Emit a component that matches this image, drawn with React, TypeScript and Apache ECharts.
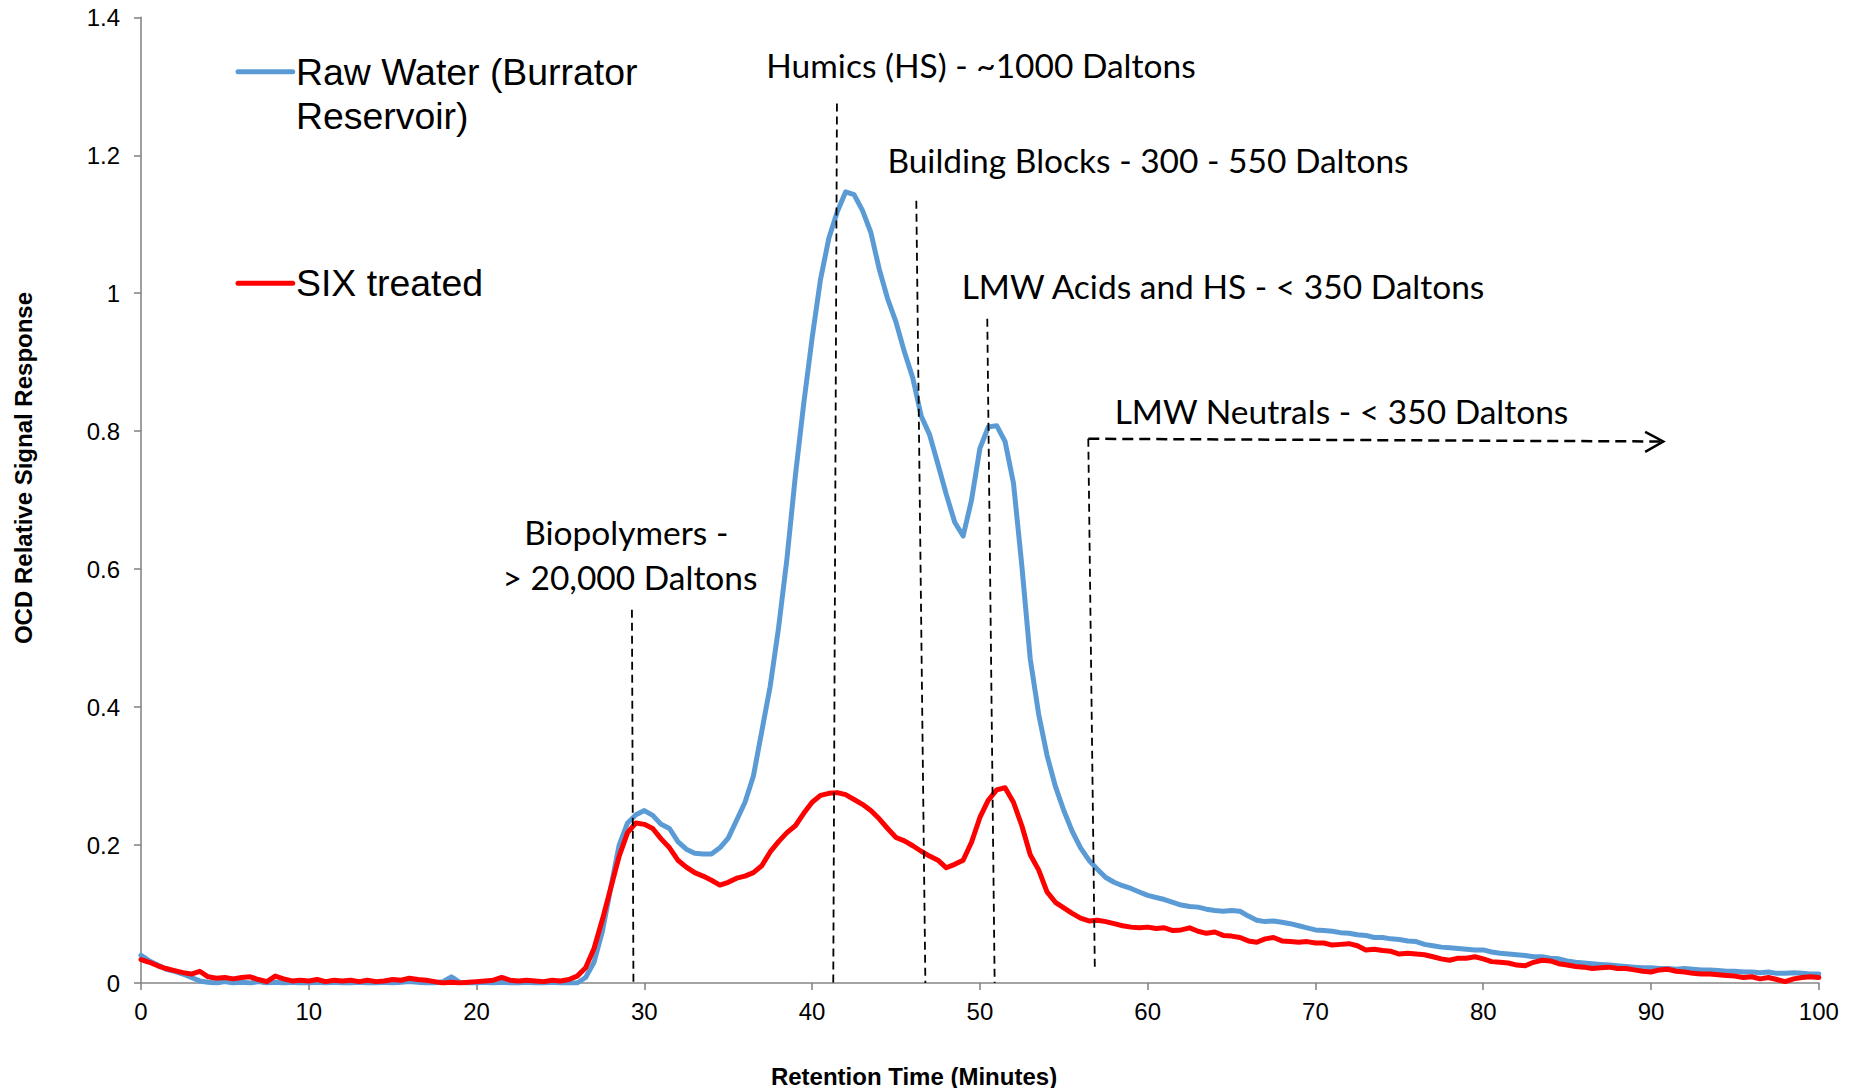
import React, { useEffect, useRef } from "react";
import * as echarts from "echarts";

// Sampling interval of the chromatogram traces (minutes)
const SAMPLE_STEP = 0.5;

// OCD relative signal response, Raw Water (Burrator Reservoir), 0–100 min every 0.5 min
const rawWater = [
  0.040, 0.032, 0.026, 0.020, 0.017, 0.013, 0.008, 0.003, 0.001, 0.000,
  0.002, 0.000, 0.001, 0.000, 0.002, 0.000, 0.001, 0.000, 0.001, 0.000,
  0.000, 0.001, 0.000, 0.001, 0.000, 0.000, 0.001, 0.000, 0.000, 0.001,
  0.000, 0.001, 0.002, 0.001, 0.000, 0.000, 0.002, 0.009, 0.001, 0.000,
  0.000, 0.001, 0.000, 0.001, 0.000, 0.000, 0.001, 0.000, 0.000, 0.001,
  0.000, 0.000, 0.000, 0.008, 0.030, 0.075, 0.138, 0.200, 0.232, 0.244,
  0.250, 0.243, 0.230, 0.224, 0.205, 0.194, 0.188, 0.187, 0.187, 0.196,
  0.210, 0.236, 0.262, 0.300, 0.365, 0.430, 0.515, 0.615, 0.735, 0.840,
  0.935, 1.020, 1.080, 1.118, 1.147, 1.143, 1.120, 1.088, 1.035, 0.992,
  0.958, 0.915, 0.877, 0.822, 0.795, 0.752, 0.708, 0.668, 0.648, 0.700,
  0.775, 0.806, 0.808, 0.785, 0.725, 0.605, 0.470, 0.390, 0.330, 0.285,
  0.250, 0.220, 0.196, 0.178, 0.165, 0.153, 0.146, 0.141, 0.137, 0.132,
  0.127, 0.124, 0.121, 0.117, 0.113, 0.111, 0.110, 0.107, 0.105, 0.104,
  0.105, 0.104, 0.097, 0.091, 0.089, 0.090, 0.088, 0.086, 0.083, 0.080,
  0.077, 0.076, 0.075, 0.073, 0.072, 0.070, 0.069, 0.066, 0.066, 0.064,
  0.063, 0.061, 0.060, 0.056, 0.054, 0.052, 0.051, 0.050, 0.049, 0.048,
  0.048, 0.045, 0.043, 0.042, 0.041, 0.040, 0.038, 0.038, 0.036, 0.035,
  0.032, 0.030, 0.029, 0.028, 0.027, 0.026, 0.025, 0.024, 0.023, 0.022,
  0.022, 0.021, 0.021, 0.020, 0.021, 0.020, 0.019, 0.019, 0.018, 0.017,
  0.017, 0.016, 0.016, 0.015, 0.016, 0.014, 0.014, 0.015, 0.014, 0.013,
  0.013,
];

// OCD relative signal response, SIX treated water, same sampling
const sixTreated = [
  0.034, 0.030, 0.025, 0.021, 0.018, 0.015, 0.013, 0.017, 0.009, 0.007,
  0.008, 0.006, 0.008, 0.009, 0.005, 0.002, 0.010, 0.006, 0.003, 0.004,
  0.003, 0.005, 0.002, 0.004, 0.003, 0.004, 0.002, 0.004, 0.002, 0.003,
  0.005, 0.004, 0.007, 0.005, 0.004, 0.002, 0.000, 0.001, 0.000, 0.001,
  0.002, 0.003, 0.004, 0.008, 0.004, 0.003, 0.004, 0.003, 0.002, 0.004,
  0.003, 0.005, 0.010, 0.022, 0.050, 0.092, 0.138, 0.184, 0.218, 0.232,
  0.230, 0.224, 0.209, 0.196, 0.178, 0.168, 0.160, 0.155, 0.149, 0.142,
  0.146, 0.152, 0.155, 0.160, 0.170, 0.190, 0.205, 0.218, 0.228, 0.246,
  0.262, 0.272, 0.275, 0.276, 0.273, 0.266, 0.259, 0.250, 0.238, 0.224,
  0.211, 0.206, 0.199, 0.191, 0.184, 0.178, 0.167, 0.172, 0.178, 0.204,
  0.240, 0.265, 0.280, 0.283, 0.262, 0.228, 0.186, 0.164, 0.132, 0.117,
  0.109, 0.101, 0.094, 0.090, 0.091, 0.089, 0.086, 0.083, 0.081, 0.080,
  0.081, 0.079, 0.080, 0.076, 0.077, 0.080, 0.075, 0.072, 0.074, 0.069,
  0.068, 0.066, 0.061, 0.059, 0.064, 0.066, 0.061, 0.060, 0.059, 0.060,
  0.058, 0.058, 0.055, 0.056, 0.057, 0.054, 0.048, 0.049, 0.047, 0.046,
  0.042, 0.043, 0.042, 0.041, 0.038, 0.035, 0.033, 0.036, 0.036, 0.038,
  0.035, 0.031, 0.030, 0.029, 0.026, 0.025, 0.030, 0.033, 0.032, 0.028,
  0.026, 0.024, 0.023, 0.021, 0.022, 0.023, 0.021, 0.021, 0.019, 0.017,
  0.016, 0.019, 0.020, 0.017, 0.016, 0.014, 0.013, 0.013, 0.012, 0.011,
  0.010, 0.008, 0.009, 0.006, 0.008, 0.005, 0.002, 0.006, 0.008, 0.009,
  0.008,
];

// Fraction boundary markers in (minutes, response) coordinates
const fractionNames = ["Biopolymers", "Humics", "Building Blocks", "LMW Acids", "LMW Neutrals"];
const fractionMarkerTop = [
  [29.26, 0.541],
  [41.48, 1.275],
  [46.21, 1.134],
  [50.44, 0.963],
  [56.46, 0.789],
];
const fractionMarkerBottom = [
  [29.35, 0.0],
  [41.26, 0.0],
  [46.75, 0.0],
  [50.88, 0.0],
  [56.85, 0.02],
];
// LMW Neutrals run-on arrow (shaft end and arrow-head wings)
const neutralsArrowEnd = [90.73, 0.785];
const neutralsArrowWings = [
  [89.65, 0.799],
  [89.65, 0.770],
];

const seriesNames = ["Raw Water (Burrator Reservoir)", "SIX treated"];

const App: React.FC = () => {
  const ref = useRef<HTMLDivElement>(null);

  useEffect(() => {
    document.body.style.margin = "0";
    if (!ref.current) return;
    const chart = echarts.init(ref.current, undefined, { renderer: "svg" });

    const times = rawWater.map((_, i) => i * SAMPLE_STEP);
    const rawPairs = rawWater.map((v, i) => [times[i], v]);
    const sixPairs = sixTreated.map((v, i) => [times[i], v]);

    const axisFont = "Liberation Sans, Arial, sans-serif";
    const noteFont = "Lato, Calibri, sans-serif";

    const markerSeries = fractionNames.map((name, i) => ({
      name: `${name} marker`,
      type: "line",
      data: [fractionMarkerTop[i], fractionMarkerBottom[i]],
      showSymbol: false,
      silent: true,
      z: 5,
      lineStyle: { color: "#000", width: 1.8, type: [8, 5] },
    }));

    const arrowShaft = {
      name: "LMW Neutrals arrow",
      type: "line",
      data: [fractionMarkerTop[4], neutralsArrowEnd],
      showSymbol: false,
      silent: true,
      z: 5,
      lineStyle: { color: "#000", width: 2.5, type: [11, 6] },
    };
    const arrowHead = {
      name: "LMW Neutrals arrow head",
      type: "line",
      data: [neutralsArrowWings[0], neutralsArrowEnd, neutralsArrowWings[1]],
      showSymbol: false,
      silent: true,
      z: 5,
      lineStyle: { color: "#000", width: 2.5, join: "miter" },
    };

    const note = (text: string, x: number, y: number) => ({
      type: "text",
      x,
      y,
      silent: true,
      style: {
        text,
        fill: "#000",
        font: `33.5px ${noteFont}`,
        textAlign: "center",
        textVerticalAlign: "middle",
      },
    });

    const legendText = (text: string, x: number, y: number) => ({
      type: "text",
      x,
      y,
      silent: true,
      style: {
        text,
        fill: "#000",
        font: `37.4px ${axisFont}`,
        textAlign: "left",
        textVerticalAlign: "middle",
      },
    });

    chart.setOption({
      animation: false,
      backgroundColor: "#fff",
      grid: { left: 141, top: 17.3, right: 34.2, bottom: 105, containLabel: false },
      xAxis: {
        type: "value",
        min: 0,
        max: 100,
        interval: 10,
        axisLine: { show: true, lineStyle: { color: "#868686", width: 1.6 } },
        axisTick: { show: true, length: 7, lineStyle: { color: "#868686", width: 1.6 } },
        splitLine: { show: false },
        axisLabel: { color: "#000", fontFamily: axisFont, fontSize: 24, margin: 16 },
      },
      yAxis: {
        type: "value",
        min: 0,
        max: 1.4,
        interval: 0.2,
        axisLine: { show: true, lineStyle: { color: "#868686", width: 1.6 } },
        axisTick: { show: true, length: 7, lineStyle: { color: "#868686", width: 1.6 } },
        splitLine: { show: false },
        axisLabel: {
          color: "#000",
          fontFamily: axisFont,
          fontSize: 24,
          margin: 21,
          formatter: (v: number) => String(Number(v.toFixed(1))),
        },
      },
      series: [
        {
          name: seriesNames[0],
          type: "line",
          data: rawPairs,
          showSymbol: false,
          z: 3,
          lineStyle: { color: "#5B9BD5", width: 5, join: "round", cap: "round" },
        },
        {
          name: seriesNames[1],
          type: "line",
          data: sixPairs,
          showSymbol: false,
          z: 4,
          lineStyle: { color: "#FF0000", width: 5, join: "round", cap: "round" },
        },
        ...markerSeries,
        arrowShaft,
        arrowHead,
      ],
      graphic: [
        // legend
        {
          type: "line",
          silent: true,
          shape: { x1: 238, y1: 71.7, x2: 292.7, y2: 71.7 },
          style: { stroke: "#5B9BD5", lineWidth: 5, lineCap: "round" },
        },
        legendText("Raw Water (Burrator", 296, 71.7),
        legendText("Reservoir)", 296, 116.3),
        {
          type: "line",
          silent: true,
          shape: { x1: 238, y1: 283.3, x2: 292.7, y2: 283.3 },
          style: { stroke: "#FF0000", lineWidth: 5, lineCap: "round" },
        },
        legendText("SIX treated", 296, 282.5),
        // fraction annotations
        note("Humics (HS) - ~1000 Daltons", 981, 65),
        note("Building Blocks - 300 - 550 Daltons", 1148, 159.5),
        note("LMW Acids and HS - < 350 Daltons", 1223, 285.5),
        note("LMW Neutrals - < 350 Daltons", 1341.5, 411),
        note("Biopolymers -", 626.3, 532),
        note("> 20,000 Daltons", 630, 577),
        // axis titles
        {
          type: "text",
          x: 23,
          y: 468,
          rotation: Math.PI / 2,
          silent: true,
          style: {
            text: "OCD Relative Signal Response",
            fill: "#000",
            font: `bold 24px ${axisFont}`,
            textAlign: "center",
            textVerticalAlign: "middle",
          },
        },
        {
          type: "text",
          x: 914,
          y: 1076,
          silent: true,
          style: {
            text: "Retention Time (Minutes)",
            fill: "#000",
            font: `bold 24px ${axisFont}`,
            textAlign: "center",
            textVerticalAlign: "middle",
          },
        },
      ],
    });

    return () => chart.dispose();
  }, []);

  return <div ref={ref} style={{ width: 1853, height: 1088 }} />;
};

export default App;
